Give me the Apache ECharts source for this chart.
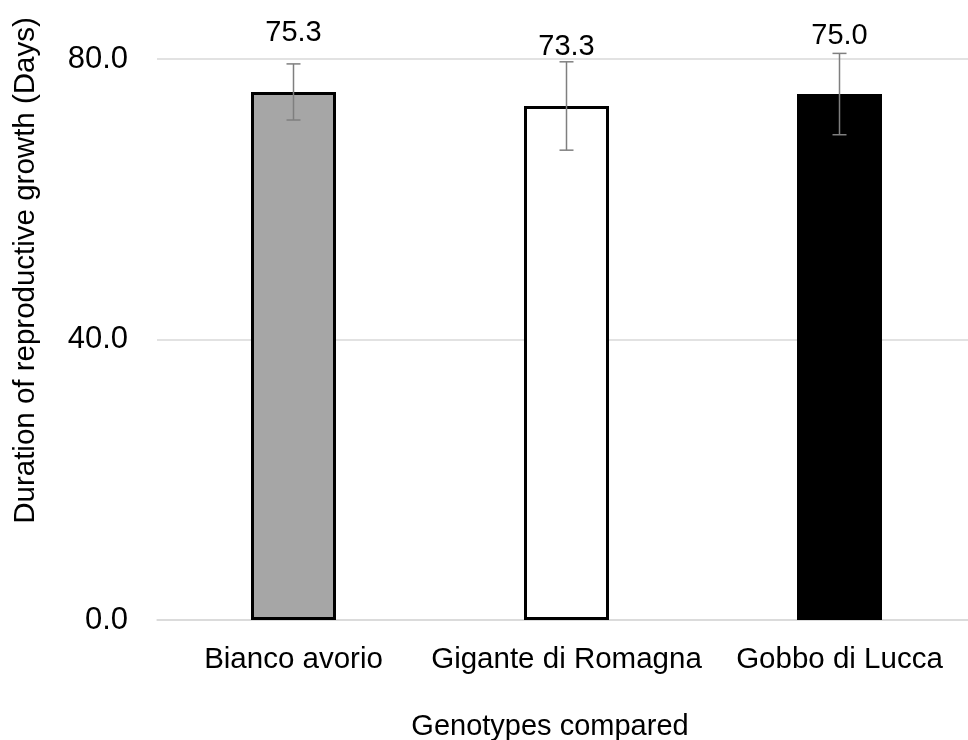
<!DOCTYPE html>
<html>
<head>
<meta charset="utf-8">
<script src="https://cdn.jsdelivr.net/npm/echarts@6/dist/echarts.min.js"></script>
<style>
html,body{margin:0;padding:0;background:#fff;}
#chart{width:968px;height:740px;}
</style>
</head>
<body>
<div id="chart"></div>
<script>
var categories = ['Bianco avorio', 'Gigante di Romagna', 'Gobbo di Lucca'];
var values = [75.3, 73.3, 75.0];
var errors = [4.0, 6.3, 5.8];
var barColors = ['#a6a6a6', '#ffffff', '#000000'];
var yTicks = [0, 40, 80];

var FONT = 'Liberation Sans, Arial, sans-serif';
var chart = echarts.init(document.getElementById('chart'));

var barData = values.map(function (v, i) {
  return { value: v, itemStyle: { color: barColors[i] } };
});
var errData = values.map(function (v, i) { return [i, v, errors[i]]; });

chart.setOption({
  animation: false,
  backgroundColor: '#ffffff',
  grid: { left: 157, width: 819, top: 59, bottom: 120, containLabel: false, outerBoundsMode: 'none' },
  xAxis: {
    type: 'category',
    data: categories,
    name: 'Genotypes compared',
    nameLocation: 'middle',
    nameGap: 92,
    nameTextStyle: { fontFamily: FONT, fontSize: 29, color: '#000', padding: [0, 33, 0, 0] },
    axisLine: { show: true, lineStyle: { color: '#d9d9d9', width: 1.5 } },
    axisTick: { show: false },
    axisLabel: { fontFamily: FONT, fontSize: 29.5, color: '#000', margin: 25, interval: 0 }
  },
  yAxis: {
    type: 'value',
    min: 0,
    max: 80,
    interval: 40,
    name: 'Duration of reproductive growth (Days)',
    nameLocation: 'middle',
    nameGap: 116,
    nameTextStyle: { fontFamily: FONT, fontSize: 29.5, color: '#000', padding: [0, 0, 0, 138] },
    axisLine: { show: false },
    axisTick: { show: false },
    splitLine: { show: true, lineStyle: { color: '#d9d9d9', width: 1.5 } },
    axisLabel: {
      fontFamily: FONT, fontSize: 31, color: '#000', margin: 29,
      formatter: function (v) { return yTicks.indexOf(v) >= 0 ? v.toFixed(1) : ''; }
    }
  },
  series: [
    {
      type: 'bar',
      data: barData,
      barWidth: 85,
      itemStyle: { borderColor: '#000000', borderWidth: 3 },
      label: {
        show: true,
        position: 'top',
        distance: 44,
        fontFamily: FONT,
        fontSize: 29,
        color: '#000',
        formatter: function (p) { return p.value.toFixed(1); }
      },
      z: 2
    },
    {
      type: 'custom',
      data: errData,
      z: 5,
      renderItem: function (params, api) {
        var x = api.value(0);
        var v = api.value(1);
        var e = api.value(2);
        var top = api.coord([x, v + e]);
        var bot = api.coord([x, v - e]);
        var cap = 7;
        var style = { stroke: '#7f7f7f', lineWidth: 1.5 };
        return {
          type: 'group',
          children: [
            { type: 'line', shape: { x1: top[0], y1: top[1], x2: bot[0], y2: bot[1] }, style: style },
            { type: 'line', shape: { x1: top[0] - cap, y1: top[1], x2: top[0] + cap, y2: top[1] }, style: style },
            { type: 'line', shape: { x1: bot[0] - cap, y1: bot[1], x2: bot[0] + cap, y2: bot[1] }, style: style }
          ]
        };
      }
    }
  ]
});
</script>
</body>
</html>
